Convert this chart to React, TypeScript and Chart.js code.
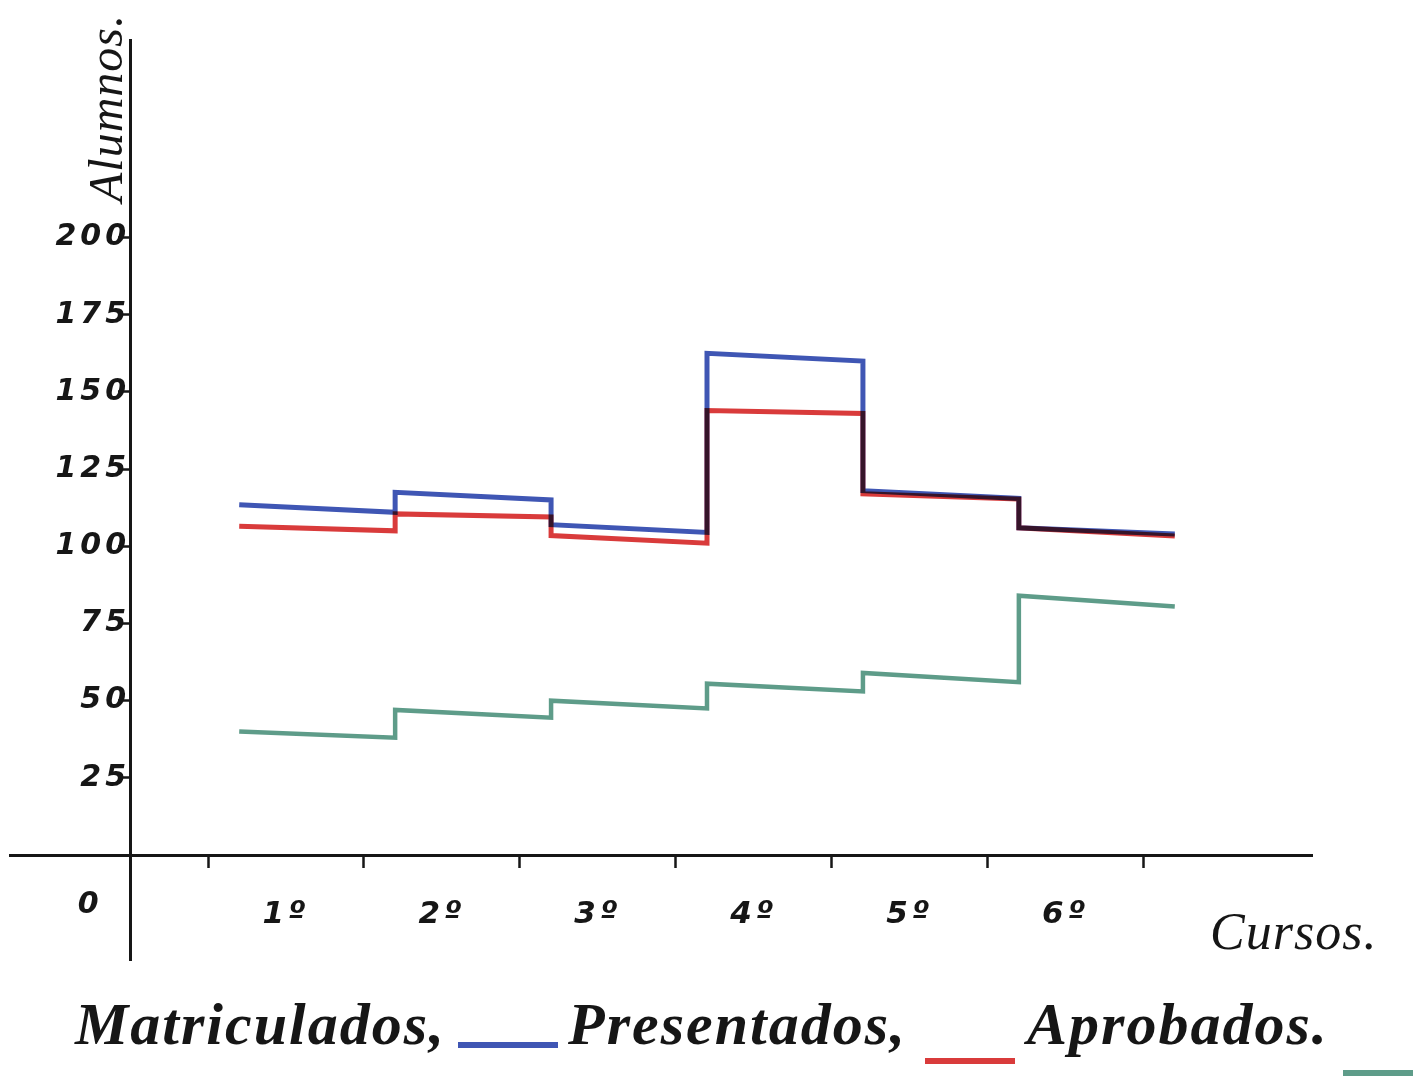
import React, { useEffect, useRef } from 'react';
import { Chart, registerables } from 'chart.js';

Chart.register(...registerables);

// ---- data ----
const categories = ['1º', '2º', '3º', '4º', '5º', '6º'];
const seriesNames = ['Matriculados,', 'Presentados,', 'Aprobados.'];
const seriesColors = ['#3f56b4', '#d93b3b', '#5e9c89'];
// each hand-drawn step is slightly sloped: value where the step starts and where it ends
const matriculadosStart = [113.5, 117.5, 107, 162.5, 118, 106];
const matriculadosEnd = [111, 115, 104.5, 160, 115.5, 104];
const presentadosStart = [106.5, 110.5, 103.5, 144, 117, 106];
const presentadosEnd = [105, 109.5, 101, 143, 115.3, 103.3];
const aprobadosStart = [40, 47, 50, 55.5, 59, 84];
const aprobadosEnd = [38, 44.5, 47.5, 53, 56, 80.5];
const yTickValues = [25, 50, 75, 100, 125, 150, 175, 200];
const yAxisTitle = 'Alumnos.';
const xAxisTitle = 'Cursos.';
const originLabel = '0';

// ---- layout constants ----
const W = 1420;
const H = 1091;
const STEP_LEAD = 0.3; // steps begin a little before the course label
const INK = '#161616';
const yTickFont = { family: '"DejaVu Sans", sans-serif', size: 30, weight: 'bold' as const, style: 'italic' as const };
const xTickFont = { family: '"DejaVu Sans", sans-serif', size: 31, weight: 'bold' as const, style: 'italic' as const };

const makePoints = (start: number[], end: number[]) =>
  categories.flatMap((_, i) => [
    { x: i + 1 - STEP_LEAD, y: start[i] },
    { x: i + 2 - STEP_LEAD, y: end[i] },
  ]);

const seriesStart = [matriculadosStart, presentadosStart, aprobadosStart];
const seriesEnd = [matriculadosEnd, presentadosEnd, aprobadosEnd];

// x ticks: boundaries (k - 0.5) get a tick mark, integers carry the course label
const xTickValues: number[] = [];
for (let k = 0; k <= categories.length; k++) {
  xTickValues.push(k + 0.5);
  if (k < categories.length) xTickValues.push(k + 1);
}

const inkPlugin = {
  id: 'inkMultiply',
  beforeDraw(chart: any) {
    chart.ctx.letterSpacing = '4px';
  },
  beforeDatasetsDraw(chart: any) {
    chart.ctx.save();
    chart.ctx.globalCompositeOperation = 'multiply';
  },
  afterDatasetsDraw(chart: any) {
    chart.ctx.restore();
  },
  afterDraw(chart: any) {
    const ctx = chart.ctx as CanvasRenderingContext2D;
    const xs = chart.scales.x;
    const ys = chart.scales.y;
    const x0 = xs.getPixelForValue(0);
    const y0 = ys.getPixelForValue(0);
    ctx.save();
    ctx.fillStyle = INK;
    // origin "0"
    ctx.letterSpacing = '0px';
    ctx.font = 'italic bold 30px "DejaVu Sans"';
    ctx.textAlign = 'center';
    ctx.textBaseline = 'middle';
    ctx.fillText(originLabel, x0 - 42, y0 + 50);
    // x axis title
    ctx.font = 'italic 52px "Liberation Serif"';
    ctx.letterSpacing = '1px';
    ctx.textAlign = 'left';
    ctx.textBaseline = 'alphabetic';
    ctx.fillText(xAxisTitle, xs.right - 102, y0 + 94);
    // y axis title, rotated
    ctx.translate(x0 - 8, ys.top + 162);
    ctx.rotate(-Math.PI / 2);
    ctx.font = 'italic 48px "Liberation Serif"';
    ctx.fillText(yAxisTitle, 0, 0);
    ctx.restore();
    ctx.letterSpacing = '0px';
  },
};

export default function App() {
  const canvasRef = useRef<HTMLCanvasElement | null>(null);

  useEffect(() => {
    if (!canvasRef.current) return;
    const chart = new Chart(canvasRef.current, {
      type: 'line',
      data: {
        datasets: seriesNames.map((name, i) => ({
          label: name,
          data: makePoints(seriesStart[i], seriesEnd[i]),
          borderColor: seriesColors[i],
          backgroundColor: seriesColors[i],
          borderWidth: i === 2 ? 4.5 : 5,
          borderJoinStyle: 'miter' as const,
          borderCapStyle: 'butt' as const,
          pointRadius: 0,
          tension: 0,
          fill: false,
        })),
      },
      options: {
        animation: false,
        responsive: false,
        events: [],
        layout: { padding: { left: 10, top: 40, right: W - 1312, bottom: H - 960 } },
        plugins: {
          legend: { display: false },
          tooltip: { enabled: false },
          title: { display: false },
        },
        scales: {
          x: {
            type: 'linear',
            min: -0.77,
            max: 7.58,
            position: { y: 0 } as any,
            afterBuildTicks: (s: any) => {
              s.ticks = xTickValues.map((v) => ({ value: v }));
            },
            ticks: {
              autoSkip: false,
              maxRotation: 0,
              minRotation: 0,
              padding: 30,
              color: INK,
              font: xTickFont,
              callback: (v: any) => {
                const n = Number(v);
                return Number.isInteger(n) ? categories[n - 1] : '';
              },
            },
            grid: {
              drawOnChartArea: false,
              drawTicks: true,
              tickLength: 11,
              tickWidth: 2.5,
              tickColor: (c: any) => (Number.isInteger(c.tick?.value) ? 'rgba(0,0,0,0)' : INK),
            },
            border: { display: true, color: INK, width: 3 },
          },
          y: {
            type: 'linear',
            min: -34,
            max: 264,
            position: { x: 0 } as any,
            afterBuildTicks: (s: any) => {
              s.ticks = yTickValues.map((v) => ({ value: v }));
            },
            ticks: { padding: 3, color: INK, font: yTickFont },
            grid: {
              drawOnChartArea: false,
              drawTicks: true,
              tickLength: 11,
              tickWidth: 2.5,
              tickColor: INK,
            },
            border: { display: true, color: INK, width: 3 },
          },
        },
      },
      plugins: [inkPlugin],
    });
    return () => chart.destroy();
  }, []);

  const barOffsets = [4, 20, 32];
  const barWidths = [100, 90, 70];
  const barGapsBefore = [12, 18, 14];
  const barGapsAfter = [10, 12, 0];

  return (
    <div style={{ position: 'absolute', left: 0, top: 0, width: W, height: H, overflow: 'hidden', background: '#fff' }}>
      <canvas ref={canvasRef} width={W} height={H} style={{ display: 'block', width: W, height: H }} />
      <div
        style={{
          position: 'absolute',
          left: 75,
          top: 990,
          display: 'flex',
          alignItems: 'baseline',
          whiteSpace: 'nowrap',
          fontFamily: '"Liberation Serif", serif',
          fontStyle: 'italic',
          fontWeight: 'bold',
          fontSize: 60,
          letterSpacing: '2px',
          color: INK,
        }}
      >
        {seriesNames.map((name, i) => (
          <React.Fragment key={name}>
            <span>{name}</span>
            <span
              style={{
                display: 'inline-block',
                width: barWidths[i],
                height: 6,
                background: seriesColors[i],
                marginLeft: barGapsBefore[i],
                marginRight: barGapsAfter[i],
                position: 'relative',
                top: barOffsets[i],
              }}
            />
          </React.Fragment>
        ))}
      </div>
    </div>
  );
}
